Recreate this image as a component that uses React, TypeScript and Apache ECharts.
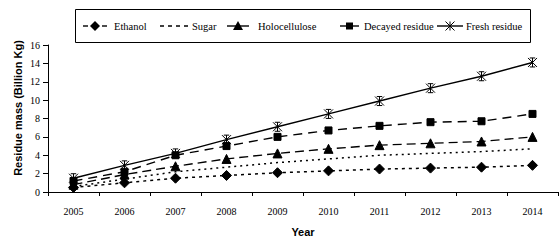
import React, { useEffect, useRef } from "react";
import * as echarts from "echarts";

const years = ["2005", "2006", "2007", "2008", "2009", "2010", "2011", "2012", "2013", "2014"];
const ethanol = [0.5, 1.0, 1.5, 1.8, 2.1, 2.3, 2.5, 2.6, 2.7, 2.9];
const sugar = [0.6, 1.4, 2.2, 2.7, 3.2, 3.6, 4.0, 4.2, 4.4, 4.7];
const holocellulose = [0.8, 1.9, 2.8, 3.6, 4.2, 4.7, 5.1, 5.3, 5.5, 6.0];
const decayed = [1.2, 2.2, 4.0, 5.0, 6.0, 6.7, 7.2, 7.6, 7.7, 8.5];
const fresh = [1.5, 2.9, 4.2, 5.7, 7.1, 8.5, 9.9, 11.3, 12.6, 14.1];
const seriesNames = ["Ethanol", "Sugar", "Holocellulose", "Decayed residue", "Fresh residue"];

const STAR = "path://M0,0L10,10M10,0L0,10M5,0L5,10M2,0L8,0M2,10L8,10";
const SERIF = "Liberation Serif";
const SANS = "Liberation Sans";

export default function App() {
  const ref = useRef<HTMLDivElement>(null);
  useEffect(() => {
    if (!ref.current) return;
    const chart = echarts.init(ref.current, null, { renderer: "svg" });
    const mk = (name: string, data: number[], symbol: string, size: number, type: any, width = 1.4) => ({
      name,
      type: "line",
      data,
      symbol,
      symbolSize: size,
      showSymbol: symbol !== "none",
      color: "#000",
      lineStyle: { color: "#000", width, type },
      itemStyle: { color: "#000", borderColor: "#000", borderWidth: 1 },
      z: 2,
    });

    const ly = 26;
    const stroke = { stroke: "#000", lineWidth: 1.4 };
    const seg = (x1: number, x2: number, dash?: number[]) => ({
      type: "line",
      shape: { x1, y1: ly, x2, y2: ly },
      style: { ...stroke, lineDash: dash },
      silent: true,
    });
    const txt = (x: number, t: string) => ({
      type: "text",
      x,
      y: ly,
      style: { text: t, fontFamily: SERIF, fontSize: 10.5, fill: "#000", verticalAlign: "middle", align: "left" },
      silent: true,
    });
    const legendGraphics: any[] = [
      {
        type: "rect",
        shape: { x: 75.5, y: 9.5, width: 455, height: 33 },
        style: { fill: "#fff", stroke: "#000", lineWidth: 1 },
        silent: true,
      },
      seg(83, 88),
      seg(102, 107),
      { type: "polygon", shape: { points: [[95, ly - 5], [100, ly], [95, ly + 5], [90, ly]] }, style: { fill: "#000" }, silent: true },
      txt(114, seriesNames[0]),
      seg(160, 189, [4, 4]),
      txt(192, seriesNames[1]),
      seg(227, 249),
      { type: "polygon", shape: { points: [[238, ly - 5], [243, ly + 4], [233, ly + 4]] }, style: { fill: "#000" }, silent: true },
      txt(258, seriesNames[2]),
      seg(340, 359),
      { type: "rect", shape: { x: 346, y: ly - 3.5, width: 7, height: 7 }, style: { fill: "#000" }, silent: true },
      txt(364, seriesNames[3]),
      seg(437, 463),
      { type: "polyline", shape: { points: [[445.5, ly - 4.5], [454.5, ly + 4.5]] }, style: { stroke: "#000", lineWidth: 1, fill: null }, silent: true },
      { type: "polyline", shape: { points: [[454.5, ly - 4.5], [445.5, ly + 4.5]] }, style: { stroke: "#000", lineWidth: 1, fill: null }, silent: true },
      { type: "polyline", shape: { points: [[450, ly - 4.5], [450, ly + 4.5]] }, style: { stroke: "#000", lineWidth: 1, fill: null }, silent: true },
      txt(466, seriesNames[4]),
      {
        type: "text",
        x: 18,
        y: 108,
        rotation: Math.PI / 2,
        style: { text: "Residue mass (Billion Kg)", fontFamily: SANS, fontSize: 11, fontWeight: "bold", fill: "#000", align: "center", verticalAlign: "middle" },
        silent: true,
      },
      {
        type: "text",
        x: 303,
        y: 232,
        style: { text: "Year", fontFamily: SANS, fontSize: 11, fontWeight: "bold", fill: "#000", align: "center", verticalAlign: "middle" },
        silent: true,
      },
    ];

    chart.setOption({
      animation: false,
      backgroundColor: "#fff",
      textStyle: { fontFamily: SERIF },
      graphic: legendGraphics,
      legend: { show: false },
      grid: { left: 48, right: 2, top: 45, bottom: 48, containLabel: false },
      xAxis: {
        type: "category",
        data: years,
        boundaryGap: true,
        axisLine: { lineStyle: { color: "#000", width: 1 } },
        axisTick: { show: true, length: 4, lineStyle: { color: "#000" } },
        axisLabel: { fontFamily: SERIF, fontSize: 10, color: "#000", margin: 14 },
        splitLine: { show: false },
      },
      yAxis: {
        type: "value",
        min: 0,
        max: 16,
        interval: 2,
        axisLine: { show: true, lineStyle: { color: "#000", width: 1 } },
        axisTick: { show: true, length: 5, lineStyle: { color: "#000" } },
        axisLabel: { fontFamily: SERIF, fontSize: 10, color: "#000", margin: 8 },
        splitLine: { show: false },
      },
      series: [
        mk(seriesNames[0], ethanol, "diamond", 10, [3, 4], 1.5),
        mk(seriesNames[1], sugar, "none", 0, [2, 4], 1.5),
        mk(seriesNames[2], holocellulose, "triangle", 9, [9, 5]),
        mk(seriesNames[3], decayed, "rect", 7, [9, 6]),
        {
          ...mk(seriesNames[4], fresh, STAR, 9, "solid"),
          itemStyle: { color: "#fff", borderColor: "#000", borderWidth: 1 },
        },
      ],
    });
    return () => chart.dispose();
  }, []);
  return <div ref={ref} style={{ position: "absolute", left: 0, top: 0, width: 560, height: 240 }} />;
}
